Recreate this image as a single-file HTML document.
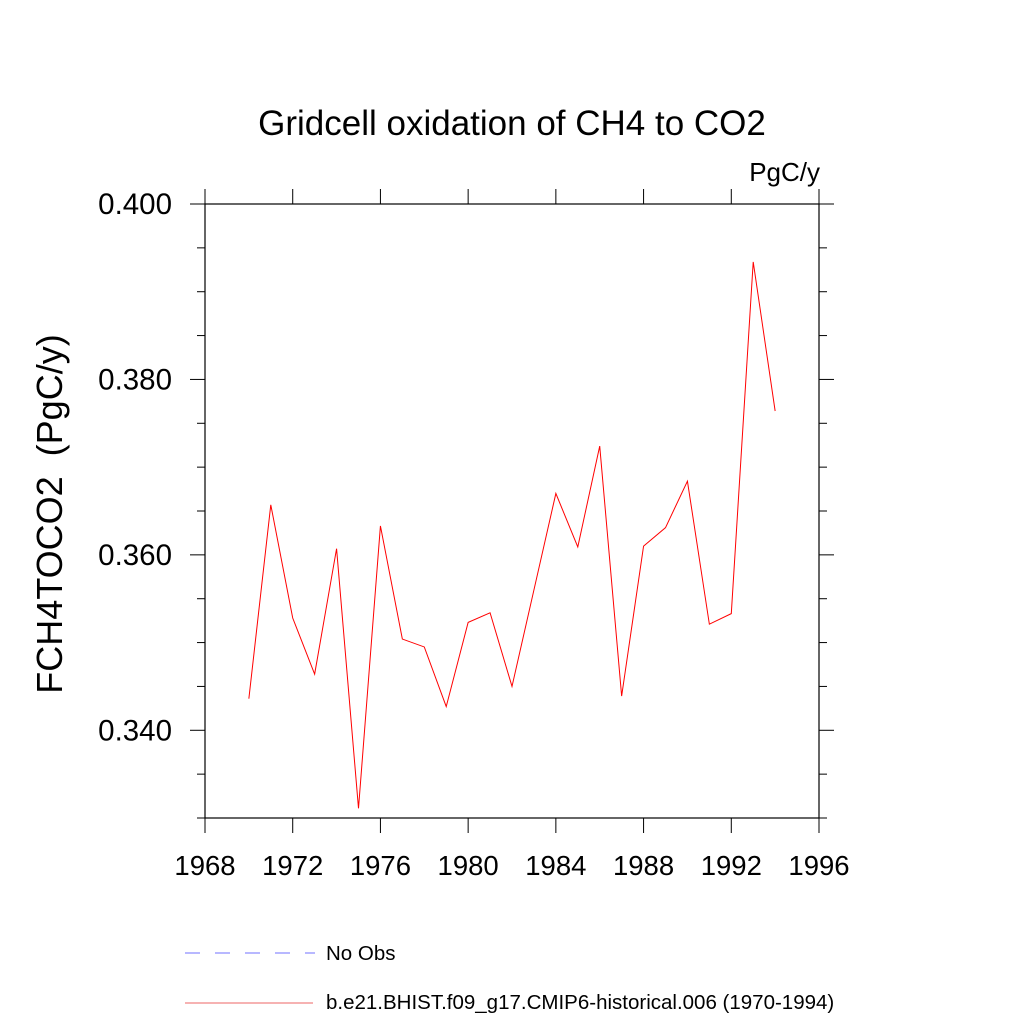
<!DOCTYPE html>
<html><head><meta charset="utf-8"><style>
html,body{margin:0;padding:0;background:#fff;}
svg{display:block;font-family:"Liberation Sans",sans-serif;}
</style></head><body>
<svg id="chart" width="1024" height="1024" viewBox="0 0 1024 1024">
<text x="512" y="135" font-size="35" text-anchor="middle">Gridcell oxidation of CH4 to CO2</text>
<text x="820" y="181" font-size="26" text-anchor="end">PgC/y</text>
<text transform="translate(62,514) rotate(-90)" font-size="36" text-anchor="middle" xml:space="preserve" style="white-space:pre">FCH4TOCO2  (PgC/y)</text>
<g id="axes"></g>
<g id="series"></g>
<g>
<line x1="185" y1="953" x2="315" y2="953" stroke="#7070ff" stroke-width="1" stroke-dasharray="15,15"/>
<text x="326" y="960" font-size="20.5">No Obs</text>
<line x1="185" y1="1003" x2="313" y2="1003" stroke="#e66" stroke-width="1"/>
<text x="326" y="1009" font-size="20.5">b.e21.BHIST.f09_g17.CMIP6-historical.006 (1970-1994)</text>
</g>
</svg>
<script>
const years=[1970,1971,1972,1973,1974,1975,1976,1977,1978,1979,1980,1981,1982,1983,1984,1985,1986,1987,1988,1989,1990,1991,1992,1993,1994];
const values=[0.3436,0.3657,0.3528,0.3464,0.3607,0.3311,0.3633,0.3504,0.3495,0.3427,0.3523,0.3534,0.3450,0.3560,0.3670,0.3609,0.3724,0.3439,0.3610,0.3631,0.3684,0.3521,0.3533,0.3934,0.3764];
const xTicks=[1968,1972,1976,1980,1984,1988,1992,1996];
const yTicks=[0.340,0.360,0.380,0.400];
const yTickLabels=["0.340","0.360","0.380","0.400"];
const L=205,R=819,T=204,B=818;
const x0=1968,x1=1996,y0=0.330,y1=0.400;
const sx=v=>L+(v-x0)/(x1-x0)*(R-L);
const sy=v=>B-(v-y0)/(y1-y0)*(B-T);
const NS="http://www.w3.org/2000/svg";
function mk(tag,attrs,parent){const e=document.createElementNS(NS,tag);for(const k in attrs)e.setAttribute(k,attrs[k]);parent.appendChild(e);return e;}
const ax=document.getElementById('axes');
const frame=mk('rect',{x:L,y:T,width:R-L,height:B-T,fill:'none',stroke:'#000','stroke-width':1.2},ax);


xTicks.forEach(t=>{const x=sx(t);
 const a=mk('line',{x1:x,y1:B,x2:x,y2:B+15,stroke:'#000'},ax);
 
 
 const b=mk('line',{x1:x,y1:T,x2:x,y2:T-15,stroke:'#000'},ax);
 
 
 const tx=mk('text',{x:x,y:B+57,'font-size':27.5,'text-anchor':'middle'},ax);tx.textContent=t;
 
 
});
for(let v=0.330;v<=0.4001;v+=0.005){const y=sy(v);const major=yTicks.some(t=>Math.abs(t-v)<1e-6);const len=major?15:8;
 const a=mk('line',{x1:L,y1:y,x2:L-len,y2:y,stroke:'#000'},ax);
 
 
 const b=mk('line',{x1:R,y1:y,x2:R+len,y2:y,stroke:'#000'},ax);
 
 
}
yTicks.forEach((t,i)=>{const tx=mk('text',{x:L-33,y:sy(t)+10,'font-size':29.5,'text-anchor':'end'},ax);tx.textContent=yTickLabels[i];
 
 
});
const pts=years.map((y,i)=>sx(y)+','+sy(values[i])).join(' ');
const pl=mk('polyline',{points:pts,fill:'none',stroke:'#f00','stroke-width':1},document.getElementById('series'));


</script>
</body></html>
